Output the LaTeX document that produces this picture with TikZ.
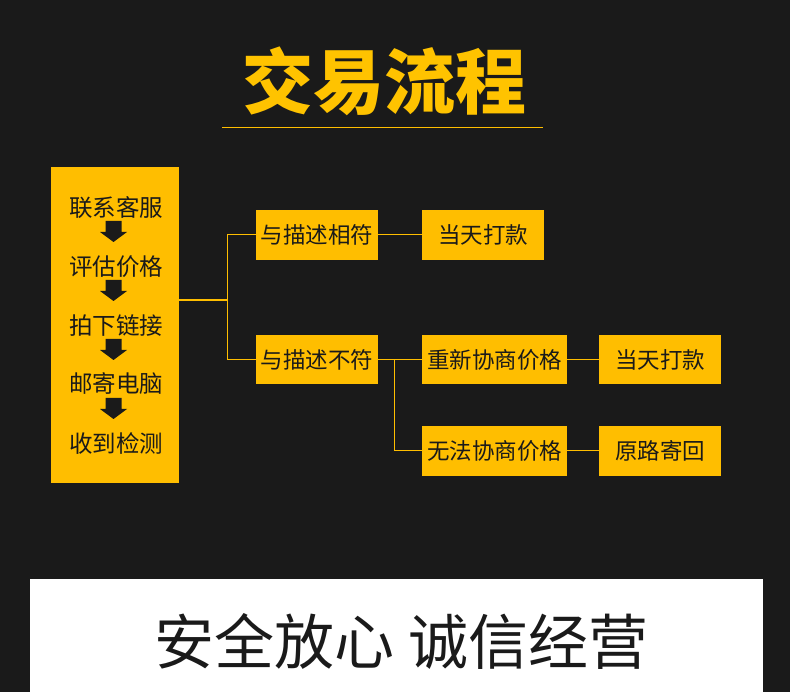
\documentclass[tikz,border=0pt]{standalone}
\usepackage{fontspec}
\newfontfamily\cjk{Noto Sans CJK SC}
\definecolor{bgc}{HTML}{1A1A1A}
\definecolor{ylw}{HTML}{FFBE00}
\definecolor{ttl}{HTML}{FFC300}
\definecolor{ink}{HTML}{1A1A1A}
\tikzset{
  ybox/.style={fill=ylw, inner sep=0pt, text=ink, font=\cjk\fontsize{22.5}{22.5}\selectfont},
  conn/.style={draw=ylw, line width=1pt},
  downarr/.style={fill=ink}
}
\begin{document}
\begin{tikzpicture}[x=1pt,y=-1pt]
\useasboundingbox (0,0) rectangle (790,692);
\fill[bgc] (0,0) rectangle (790,692);

% title
\node[text=ttl, font=\cjk\bfseries\fontsize{71}{71}\selectfont, inner sep=0pt] (title) at (384,81) {交易流程};
\draw[conn] (222,128) -- (543,128);

% left box
\node[ybox, minimum width=128pt, minimum height=316pt] (lb) at (115,325) {};
\foreach \t/\y [count=\i] in {联系客服/208, 评估价格/267, 拍下链接/326, 邮寄电脑/384, 收到检测/443}
  \node[text=ink, font=\cjk\fontsize{23.5}{23.5}\selectfont, inner sep=0pt] (s\i) at (116,\y) {\t};
\foreach \y in {221, 280, 339, 398}
  \fill[downarr] (105.5,\y) -- (121.5,\y) -- (121.5,\y+11) -- (127,\y+11) -- (113.5,\y+21) -- (100,\y+11) -- (105.5,\y+11) -- cycle;

% boxes
\node[ybox, minimum width=122pt, minimum height=50pt] (A) at (317,235) {与描述相符};
\node[ybox, minimum width=122pt, minimum height=49pt] (B) at (317,359.5) {与描述不符};
\node[ybox, minimum width=122pt, minimum height=50pt] (C) at (483,235) {当天打款};
\node[ybox, minimum width=145pt, minimum height=49pt] (D) at (494.5,359.5) {重新协商价格};
\node[ybox, minimum width=122pt, minimum height=49pt] (E) at (660,359.5) {当天打款};
\node[ybox, minimum width=145pt, minimum height=50pt] (F) at (494.5,451) {无法协商价格};
\node[ybox, minimum width=122pt, minimum height=50pt] (G) at (660,451) {原路寄回};

% connectors
\coordinate (j1) at (227,300);
\coordinate (j2) at (394,359.5);
\draw[conn, line width=2.5pt] (lb.east |- j1) -- (j1);
\draw[conn] (A.west) -| (j1);
\draw[conn] (B.west) -| (j1);
\draw[conn] (A.east) -- (C.west);
\draw[conn] (B.east) -- (D.west);
\draw[conn] (F.west) -| (j2);
\draw[conn] (D.east) -- (E.west);
\draw[conn] (F.east) -- (G.west);

% bottom banner
\fill[white] (30,579) rectangle (763,692);
\node[text=ink, font=\cjk\fontsize{60}{60}\selectfont, inner sep=0pt] (slogan) at (401.5,641.5) {安全放心 诚信经营};
\end{tikzpicture}
\end{document}
